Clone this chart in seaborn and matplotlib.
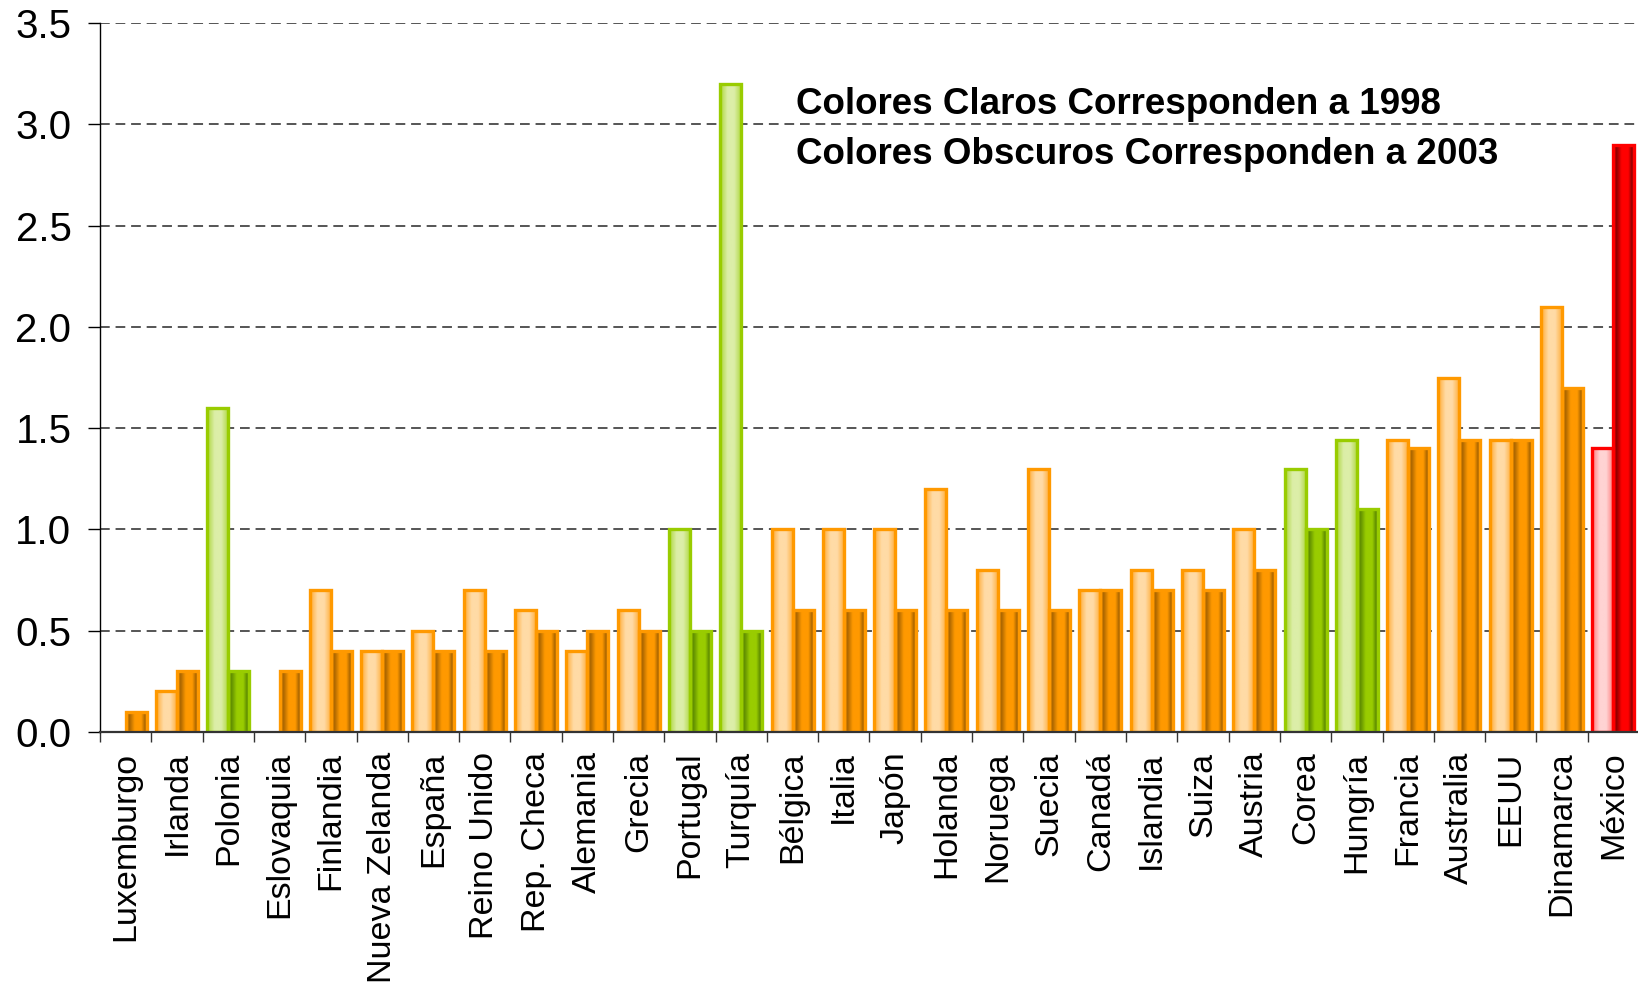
import numpy as np
import pandas as pd
import matplotlib
matplotlib.use("Agg")
import matplotlib.pyplot as plt
import seaborn as sns
from matplotlib.colors import to_rgb
from matplotlib.ticker import FixedLocator

# ---------------- data ----------------
paises = ["Luxemburgo", "Irlanda", "Polonia", "Eslovaquia", "Finlandia",
          "Nueva Zelanda", "España", "Reino Unido", "Rep. Checa", "Alemania",
          "Grecia", "Portugal", "Turquía", "Bélgica", "Italia", "Japón",
          "Holanda", "Noruega", "Suecia", "Canadá", "Islandia", "Suiza",
          "Austria", "Corea", "Hungría", "Francia", "Australia", "EEUU",
          "Dinamarca", "México"]
valores_1998 = [np.nan, 0.2, 1.6, np.nan, 0.7, 0.4, 0.5, 0.7, 0.6, 0.4,
                0.6, 1.0, 3.2, 1.0, 1.0, 1.0, 1.2, 0.8, 1.3, 0.7,
                0.8, 0.8, 1.0, 1.3, 1.44, 1.44, 1.75, 1.44, 2.1, 1.4]
valores_2003 = [0.1, 0.3, 0.3, 0.3, 0.4, 0.4, 0.4, 0.4, 0.5, 0.5,
                0.5, 0.5, 0.5, 0.6, 0.6, 0.6, 0.6, 0.6, 0.6, 0.7,
                0.7, 0.7, 0.8, 1.0, 1.1, 1.4, 1.44, 1.44, 1.7, 2.9]
grupo = ["n", "n", "v", "n", "n", "n", "n", "n", "n", "n",
         "n", "v", "v", "n", "n", "n", "n", "n", "n", "n",
         "n", "n", "n", "v", "v", "n", "n", "n", "n", "r"]
anios = ["1998", "2003"]
texto_1 = "Colores Claros Corresponden a 1998"
texto_2 = "Colores Obscuros Corresponden a 2003"
yticks = [0.0, 0.5, 1.0, 1.5, 2.0, 2.5, 3.0, 3.5]

df = pd.DataFrame({
    "País": paises * 2,
    "Año": [anios[0]] * len(paises) + [anios[1]] * len(paises),
    "Valor": valores_1998 + valores_2003,
})

# colour schemes
estilos = {
    "n": {"1998": ("#FF9900", ["#FFAA33", "#FFDBA6", "#FFDBA6", "#FFAA33"]),
          "2003": ("#FF9900", ["#FF9900", "#A86400", "#FF9900", "#FF9900", "#A86400", "#FF9900"])},
    "v": {"1998": ("#99CC00", ["#ACD63A", "#DCEEA8", "#DCEEA8", "#ACD63A"]),
          "2003": ("#99CC00", ["#99CC00", "#5E8C00", "#99CC00", "#99CC00", "#5E8C00", "#99CC00"])},
    "r": {"1998": ("#FF0000", ["#FF7777", "#FFD3D3", "#FFD3D3", "#FF7777"]),
          "2003": ("#FF0000", ["#FF0000", "#8C0000", "#FF0000", "#FF0000", "#8C0000", "#FF0000"])},
}
pos_light = [0.0, 0.35, 0.65, 1.0]
pos_dark = [0.0, 0.15, 0.4, 0.7, 0.87, 1.0]

# ---------------- figure ----------------
sns.set_theme(style="white")
plt.rcParams['font.family'] = ['Liberation Sans', 'DejaVu Sans']

W, H = 1638, 983
fig = plt.figure(figsize=(W / 100, H / 100), dpi=100)
ax = fig.add_axes([100 / W, 1 - 732 / H, 1539 / W, (732 - 23) / H])

sns.barplot(data=df, x="País", y="Valor", hue="Año", order=paises,
            hue_order=anios, width=0.82, dodge=True, errorbar=None,
            legend=False, ax=ax, saturation=1)

ax.set_xlim(-0.5, len(paises) - 0.5)
ax.set_ylim(0, 3.5)

# style each bar with a horizontal gradient
for ci, cont in enumerate(ax.containers):
    anio = anios[ci]
    for p in cont.patches:
        h = p.get_height()
        if not np.isfinite(h) or h <= 0:
            p.set_visible(False)
            continue
        x0, w = p.get_x(), p.get_width()
        idx = int(round(x0 + w / 2))
        edge, cols = estilos[grupo[idx]][anio]
        pos = pos_light if anio == "1998" else pos_dark
        t = np.linspace(0, 1, 80)
        rgb = np.array([to_rgb(c) for c in cols])
        grad = np.stack([np.interp(t, pos, rgb[:, k]) for k in range(3)], axis=-1)[None, :, :]
        im = ax.imshow(grad, extent=[x0, x0 + w, 0, h], aspect="auto",
                       zorder=1.5, interpolation="bilinear")
        im.set_clip_path(p)
        p.set_facecolor("none")
        p.set_edgecolor(edge)
        p.set_linewidth(2.4)
        p.set_zorder(2)

ax.set_xlim(-0.5, len(paises) - 0.5)
ax.set_ylim(0, 3.5)

# grid
ax.set_axisbelow(True)
ax.yaxis.grid(True, color="#555555", linestyle=(0, (5, 3)), linewidth=1.4)
ax.xaxis.grid(False)

# spines
for s in ["top", "right"]:
    ax.spines[s].set_visible(False)
ax.spines["left"].set_color("black")
ax.spines["left"].set_linewidth(1.0)
ax.spines["bottom"].set_color("#333333")
ax.spines["bottom"].set_linewidth(1.6)
ax.spines["left"].set_zorder(3)
ax.spines["bottom"].set_zorder(3)

# y ticks
ax.set_yticks(yticks)
ax.set_yticklabels([f"{v:.1f}" for v in yticks])
ax.tick_params(axis="y", which="major", left=True, length=8.6, width=1.0,
               color="black", pad=12, labelsize=29, labelcolor="black")

# x ticks: labels at centres, tick marks at boundaries
ax.set_xticks(range(len(paises)))
ax.set_xticklabels(paises, rotation=90, ha="center", va="top")
ax.xaxis.set_minor_locator(FixedLocator(np.arange(-0.5, len(paises), 1.0)))
ax.tick_params(axis="x", which="major", bottom=True, length=0, pad=14,
               labelsize=24.5, labelcolor="black")
ax.tick_params(axis="x", which="minor", bottom=True, length=7, width=1.0,
               color="#333333")
ax.set_xlabel("")
ax.set_ylabel("")

# annotations
fig.text(796 / W, 1 - 104 / H, texto_1, fontsize=26.5, fontweight="bold",
         color="black", ha="left", va="center")
fig.text(796 / W, 1 - 154 / H, texto_2, fontsize=26.5, fontweight="bold",
         color="black", ha="left", va="center")

fig.savefig("out.png", dpi=100)
